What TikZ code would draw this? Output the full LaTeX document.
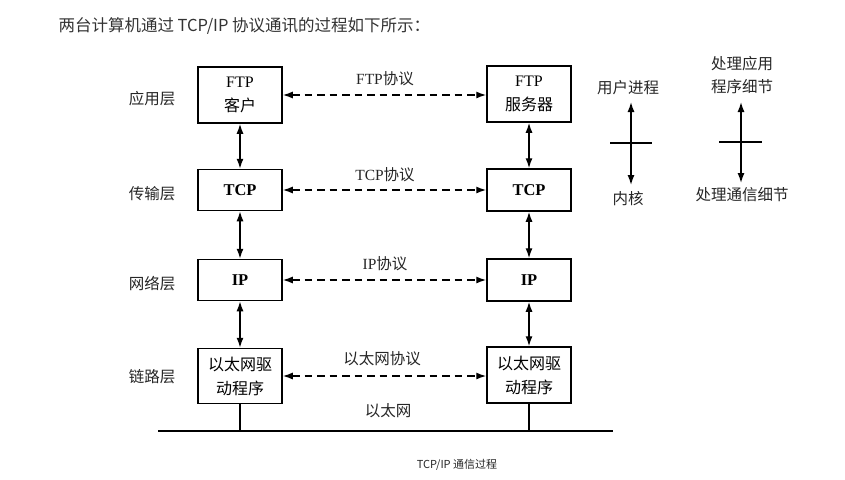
\documentclass[tikz,border=0pt]{standalone}
\usepackage{fontspec}
\setmainfont{Liberation Serif}
\newfontfamily\cjk{Noto Sans CJK SC}
\usetikzlibrary{arrows.meta}
\begin{document}
\begin{tikzpicture}[x=1pt,y=-1pt,
  box/.style={draw, line width=1.5pt, minimum width=84pt, inner sep=0pt, align=center,
    font=\fontsize{16}{24}\selectfont},
  bbox/.style={box, font=\fontsize{16.5}{24}\selectfont\bfseries},
  dbl/.style={{Latex[length=10pt,width=7pt]}-{Latex[length=10pt,width=7pt]}, line width=1.4pt},
  proto/.style={dbl, dash pattern=on 7.5pt off 5pt},
  lbl/.style={font=\cjk\fontsize{15.5}{23}\selectfont, text=black!85, inner sep=1pt},
  ]
\useasboundingbox (0,0) rectangle (845,479);

% title and caption
\node[anchor=west, font=\cjk\fontsize{16.5}{18}\selectfont, text=black!80] (title) at (55,26)
  {两台计算机通过 TCP/IP 协议通讯的过程如下所示：};
\node[font=\cjk\fontsize{11}{13}\selectfont, text=black!85] (cap) at (457,465) {TCP/IP 通信过程};

% layer labels
\node[lbl] (la) at (152,99) {应用层};
\node[lbl] (lt) at (152,194) {传输层};
\node[lbl] (ln) at (152,284) {网络层};
\node[lbl] (ll) at (152,377) {链路层};

% left stack
\node[box, minimum height=56pt] (ftpL) at (240,95) {FTP\\{\cjk 客户}};
\node[bbox, minimum height=41pt] (tcpL) at (240,190) {TCP};
\node[bbox, minimum height=41pt] (ipL) at (240,280) {IP};
\node[box, minimum height=55pt] (ethL) at (240,376) {{\cjk 以太网驱}\\{\cjk 动程序}};

% right stack
\node[box, minimum height=56pt] (ftpR) at (529,94) {FTP\\{\cjk 服务器}};
\node[bbox, minimum height=42pt] (tcpR) at (529,190) {TCP};
\node[bbox, minimum height=42pt] (ipR) at (529,280) {IP};
\node[box, minimum height=56pt] (ethR) at (529,375) {{\cjk 以太网驱}\\{\cjk 动程序}};

% vertical arrows
\draw[dbl] (ftpL) -- (tcpL);
\draw[dbl] (tcpL) -- (ipL);
\draw[dbl] (ipL) -- (ethL);
\draw[dbl] (ftpR) -- (tcpR);
\draw[dbl] (tcpR) -- (ipR);
\draw[dbl] (ipR) -- (ethR);

% protocol arrows
\draw[proto] (ftpL.east) -- (ftpL.east -| ftpR.west);
\draw[proto] (tcpL.east) -- (tcpL.east -| tcpR.west);
\draw[proto] (ipL.east) -- (ipL.east -| ipR.west);
\draw[proto] (ethL.east) -- (ethL.east -| ethR.west);

\node[lbl] (pf) at (385,79) {{\rmfamily FTP}协议};
\node[lbl] (pt) at (385,175) {{\rmfamily TCP}协议};
\node[lbl] (pi) at (385,264) {{\rmfamily IP}协议};
\node[lbl] (pe) at (382,359) {以太网协议};

% ethernet
\coordinate (e0) at (158,431);
\coordinate (e1) at (613,431);
\draw[line width=2.8pt] (e0) -- (e1);
\draw[line width=1.3pt] (ethL.south) -- (ethL.south |- e0);
\draw[line width=1.3pt] (ethR.south) -- (ethR.south |- e0);
\node[lbl] (el) at (388,411) {以太网};

% right legend
\node[lbl] (up) at (628,88) {用户进程};
\node[lbl] (kn) at (628,199) {内核};
\coordinate (a1t) at (631,102);
\coordinate (a1b) at (631,185);
\coordinate (t1l) at (610,143);
\coordinate (t1r) at (652,143);
\draw[dbl] (a1t) -- (a1b);
\draw[line width=1.4pt] (t1l) -- (t1r);

\node[lbl, align=center] (app) at (742,75) {处理应用\\程序细节};
\node[lbl] (comm) at (742,195) {处理通信细节};
\coordinate (a2t) at (741,102);
\coordinate (a2b) at (741,183);
\coordinate (t2l) at (719,142);
\coordinate (t2r) at (762,142);
\draw[dbl] (a2t) -- (a2b);
\draw[line width=1.4pt] (t2l) -- (t2r);
\end{tikzpicture}
\end{document}
